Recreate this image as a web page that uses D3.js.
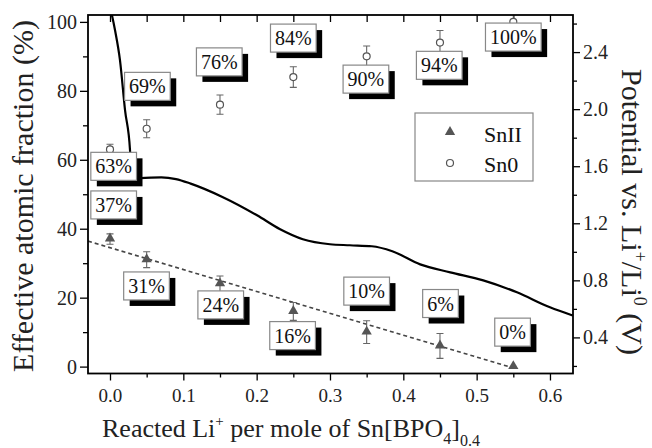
<!DOCTYPE html>
<html><head><meta charset="utf-8">
<script src="https://cdn.jsdelivr.net/npm/d3@7/dist/d3.min.js"></script>
<style>
body{margin:0;background:#fff}
svg{display:block}
svg text{font-family:"Liberation Serif","DejaVu Serif","Times New Roman",serif !important;}
</style>
</head><body><svg id="c" width="652" height="448"></svg>
<script>
// ---------- data ----------
const xValues   = [0, 0.05, 0.15, 0.25, 0.35, 0.45, 0.55];
const sn0Values = [63, 69, 76, 84, 90, 94, 100];
const sn0Errors = [1.5, 2.6, 2.8, 3, 3, 3.5, 3];
const sn2Values = [37, 31, 24, 16, 10, 6, 0];
const sn2Errors = [1.5, 2.3, 2.3, 2.6, 3.3, 3.6, 0];
const sn0Labels = ["63%", "69%", "76%", "84%", "90%", "94%", "100%"];
const sn2Labels = ["37%", "31%", "24%", "16%", "10%", "6%", "0%"];
// linear fit of SnII (two end points)
const fitX = [-0.03, 0.55];
const fitY = [36.4, -0.4];
// potential curve (right axis, V)
const potX = [0, 0.0068, 0.0136, 0.0205, 0.0273, 0.0286, 0.0327, 0.042, 0.07, 0.09, 0.11, 0.154, 0.2005, 0.232, 0.263, 0.300, 0.327, 0.357, 0.385, 0.423, 0.464, 0.509, 0.555, 0.600, 0.631];
const potV = [2.72, 2.555, 2.344, 1.993, 1.712, 1.593, 1.53, 1.517, 1.522, 1.51, 1.478, 1.383, 1.256, 1.158, 1.088, 1.053, 1.046, 1.039, 1.004, 0.912, 0.856, 0.800, 0.716, 0.611, 0.554];
// tick labels
const leftTicks  = [0, 20, 40, 60, 80, 100];
const rightTicks = [0.4, 0.8, 1.2, 1.6, 2.0, 2.4];
const xTicks     = [0, 0.1, 0.2, 0.3, 0.4, 0.5, 0.6];
// annotation box anchors (data units, left axis)
const sn0LabelX = [0.005, 0.051, 0.149, 0.25, 0.349, 0.449, 0.55];
const sn0LabelY = [58.1, 81.3, 88.4, 95.3, 83.4, 87.4, 95.6];
const sn2LabelX = [0.005, 0.0498, 0.151, 0.249, 0.35, 0.4507, 0.549];
const sn2LabelY = [46.9, 23.4, 17.9, 9.0, 21.9, 18.3, 10.0];

// ---------- layout ----------
const L = 88, R = 573, T = 15, B = 373.5;
const svg = d3.select("#c");

const x  = d3.scaleLinear([-0.03, 0.6314], [L, R]);
const yL = d3.scaleLinear([-2, 102], [B, T]);
const yR = d3.scaleLinear([0.147, 2.66], [B, T]);

svg.append("defs").append("clipPath").attr("id", "clip")
  .append("rect").attr("x", L).attr("y", T).attr("width", R - L).attr("height", B - T);

function styleAxis(g, size) {
  g.attr("font-family", null);
  g.select(".domain").remove();
  g.selectAll(".tick line").attr("stroke", "#000").attr("stroke-width", 1.3);
  g.selectAll(".tick text").attr("font-size", size).attr("fill", "#222");
}

// left axis
svg.append("g").attr("transform", `translate(${L},0)`)
  .call(d3.axisLeft(yL).tickValues(leftTicks).tickSize(8).tickPadding(3))
  .call(g => styleAxis(g, 20));
svg.append("g").attr("transform", `translate(${L},0)`)
  .call(d3.axisLeft(yL).tickValues([10, 30, 50, 70, 90]).tickSize(5).tickFormat(""))
  .call(g => styleAxis(g, 20));
// right axis
svg.append("g").attr("transform", `translate(${R},0)`)
  .call(d3.axisRight(yR).tickValues(rightTicks).tickSize(7).tickPadding(3).tickFormat(d3.format(".1f")))
  .call(g => styleAxis(g, 20));
svg.append("g").attr("transform", `translate(${R},0)`)
  .call(d3.axisRight(yR).tickValues([0.2, 0.6, 1.0, 1.4, 1.8, 2.2, 2.6]).tickSize(4).tickFormat(""))
  .call(g => styleAxis(g, 20));
// bottom axis
svg.append("g").attr("transform", `translate(0,${B})`)
  .call(d3.axisBottom(x).tickValues(xTicks).tickSize(7).tickPadding(8).tickFormat(d3.format(".1f")))
  .call(g => styleAxis(g, 19));
svg.append("g").attr("transform", `translate(0,${B})`)
  .call(d3.axisBottom(x).tickValues([0.05, 0.15, 0.25, 0.35, 0.45, 0.55]).tickSize(4).tickFormat(""))
  .call(g => styleAxis(g, 19));
// top axis (inward ticks)
svg.append("g").attr("transform", `translate(0,${T})`)
  .call(d3.axisTop(x).tickValues(d3.range(0, 13).map(i => i * 0.05)).tickSize(-7).tickFormat(""))
  .call(g => styleAxis(g, 19));

const plot = svg.append("g").attr("clip-path", "url(#clip)");

// fit line
plot.append("path")
  .datum(fitX.map((d, i) => [d, fitY[i]]))
  .attr("d", d3.line().x(d => x(d[0])).y(d => yL(d[1])))
  .attr("fill", "none").attr("stroke", "#444").attr("stroke-width", 1.6)
  .attr("stroke-dasharray", "4,3");

// potential curve
plot.append("path")
  .datum(potX.map((d, i) => [d, potV[i]]))
  .attr("d", d3.line().x(d => x(d[0])).y(d => yR(d[1])).curve(d3.curveMonotoneX))
  .attr("fill", "none").attr("stroke", "#000").attr("stroke-width", 2.2);

// error bars
function errorBars(vals, errs) {
  const g = plot.append("g").attr("stroke", "#666").attr("stroke-width", 1.1);
  xValues.forEach((xv, i) => {
    if (!errs[i]) return;
    const cx = x(xv), y1 = yL(vals[i] - errs[i]), y2 = yL(vals[i] + errs[i]);
    g.append("line").attr("x1", cx).attr("x2", cx).attr("y1", y1).attr("y2", y2);
    g.append("line").attr("x1", cx - 3.5).attr("x2", cx + 3.5).attr("y1", y1).attr("y2", y1);
    g.append("line").attr("x1", cx - 3.5).attr("x2", cx + 3.5).attr("y1", y2).attr("y2", y2);
  });
}
errorBars(sn0Values, sn0Errors);
errorBars(sn2Values, sn2Errors);

// markers
plot.append("g").selectAll("circle").data(xValues).join("circle")
  .attr("cx", d => x(d)).attr("cy", (d, i) => yL(sn0Values[i])).attr("r", 3.5)
  .attr("fill", "#fff").attr("stroke", "#555").attr("stroke-width", 1.2);
const tri = d3.symbol(d3.symbolTriangle).size(46);
plot.append("g").selectAll("path").data(xValues).join("path")
  .attr("d", tri).attr("transform", (d, i) => `translate(${x(d)},${yL(sn2Values[i]) - 0.5})`)
  .attr("fill", "#555");

// annotation boxes
function labelBox(txt, lx, ly) {
  const g = svg.append("g").attr("transform", `translate(${x(lx)},${yL(ly)})`);
  const shadow = g.append("rect").attr("fill", "#000");
  const box = g.append("rect").attr("fill", "#fff").attr("stroke", "#888").attr("stroke-width", 1.2);
  const t = g.append("text").text(txt).attr("font-size", 20)
    .attr("text-anchor", "middle").attr("dy", "0.35em").attr("fill", "#111");
  const w = t.node().getComputedTextLength() + 9, h = 28;
  box.attr("x", -w / 2).attr("y", -h / 2).attr("width", w).attr("height", h);
  shadow.attr("x", -w / 2 + 6).attr("y", -h / 2 + 6).attr("width", w).attr("height", h);
}
sn0Labels.forEach((s, i) => labelBox(s, sn0LabelX[i], sn0LabelY[i]));
sn2Labels.forEach((s, i) => labelBox(s, sn2LabelX[i], sn2LabelY[i]));

// frame
svg.append("rect").attr("x", L).attr("y", T).attr("width", R - L).attr("height", B - T)
  .attr("fill", "none").attr("stroke", "#000").attr("stroke-width", 1.8);

// legend
const lg = svg.append("g");
lg.append("rect").attr("x", 415).attr("y", 113).attr("width", 118).attr("height", 68)
  .attr("fill", "#fff").attr("stroke", "#888").attr("stroke-width", 1.2);
lg.append("path").attr("d", tri).attr("transform", "translate(450,132)").attr("fill", "#555");
lg.append("circle").attr("cx", 450).attr("cy", 163).attr("r", 3.5)
  .attr("fill", "#fff").attr("stroke", "#555").attr("stroke-width", 1.2);
lg.append("text").attr("x", 484).attr("y", 142).text("SnII")
  .attr("font-size", 22).attr("fill", "#111");
lg.append("text").attr("x", 484).attr("y", 172).text("Sn0")
  .attr("font-size", 22).attr("fill", "#111");

// axis titles
svg.append("text").attr("transform", "translate(33,196) rotate(-90)")
  .attr("text-anchor", "middle").attr("font-size", 30).attr("fill", "#222")
  .text("Effective atomic fraction (%)");

const rt = svg.append("text").attr("transform", "translate(622,212) rotate(90)")
  .attr("text-anchor", "middle").attr("font-size", 30).attr("fill", "#222");
rt.append("tspan").text("Potential vs. Li");
rt.append("tspan").text("+").attr("font-size", 18).attr("dy", -12);
rt.append("tspan").text("/Li").attr("dy", 12);
rt.append("tspan").text("0").attr("font-size", 18).attr("dy", -12);
rt.append("tspan").text(" (V)").attr("dy", 12);

const bt = svg.append("text").attr("x", 102).attr("y", 437)
  .attr("font-size", 26).attr("fill", "#222");
bt.append("tspan").text("Reacted Li");
bt.append("tspan").text("+").attr("font-size", 15).attr("dy", -11);
bt.append("tspan").text(" per mole of Sn[BPO").attr("dy", 11);
bt.append("tspan").text("4").attr("font-size", 16).attr("dy", 7);
bt.append("tspan").text("]").attr("dy", -7);
bt.append("tspan").text("0.4").attr("font-size", 16).attr("dy", 9);
</script></body></html>
